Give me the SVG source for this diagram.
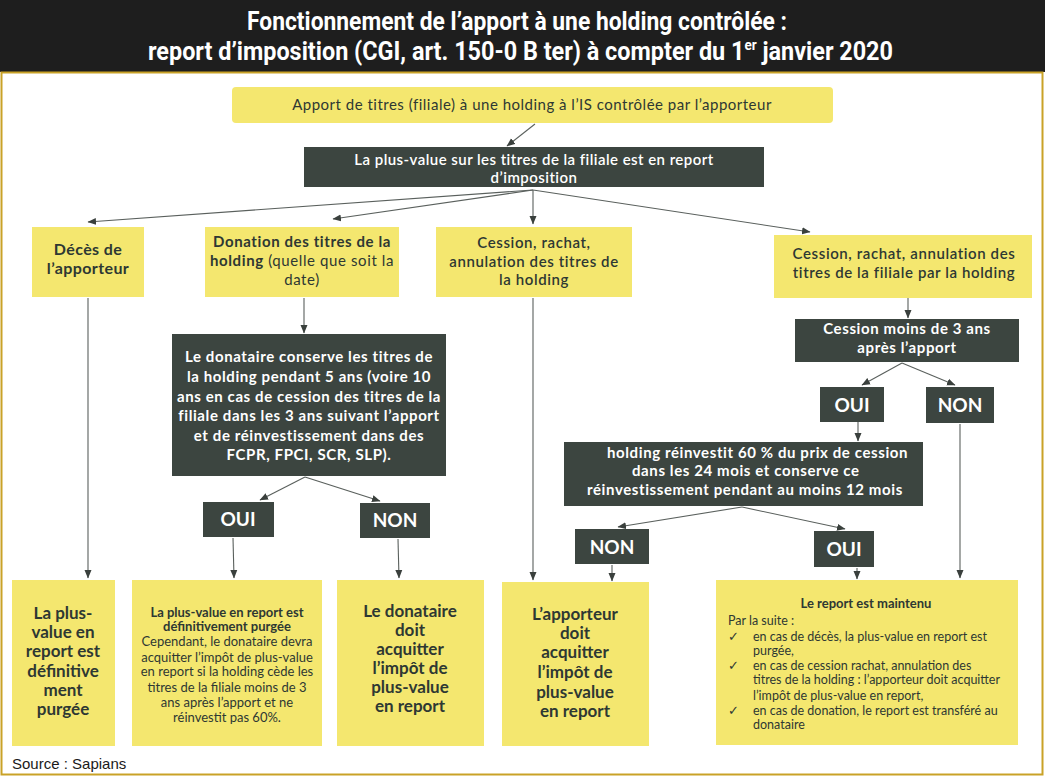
<svg xmlns="http://www.w3.org/2000/svg" width="1045" height="778" viewBox="0 0 1045 778">
<defs>
<marker id="ah" markerUnits="userSpaceOnUse" markerWidth="9" markerHeight="8" refX="8" refY="4" orient="auto">
<path d="M0,0.5 L8.5,4 L0,7.5 z" fill="#3a403d"/>
</marker>
<style>
.y{fill:#f4e76f}
.d{fill:#3c4540}
.t{font-family:Lato,"Noto Sans",sans-serif;fill:#2e3833;text-anchor:middle}
.w{fill:#ffffff}
.b{font-weight:bold}
.s{font-weight:600}
.l{text-anchor:start}
.ls{letter-spacing:0.6px}
.ttl{font-family:Roboto,"Liberation Sans",sans-serif;font-weight:bold;fill:#ffffff}
#connectors line{stroke:#5a605d;stroke-width:1.1;marker-end:url(#ah)}
</style>
</defs>
<rect x="0" y="0" width="1045" height="778" fill="#ffffff"/>
<g id="title">
<rect x="0" y="0" width="1045" height="72" fill="#1e1e1e"/>
<text class="ttl" style="font-size:26px" x="247" y="30" textLength="540" lengthAdjust="spacingAndGlyphs">Fonctionnement de l’apport à une holding contrôlée :</text>
<text class="ttl" style="font-size:26px" x="148" y="60" textLength="745" lengthAdjust="spacingAndGlyphs">report d’imposition (CGI, art. 150-0 B ter) à compter du 1<tspan style="font-size:15px" dy="-10">er</tspan><tspan dy="10"> janvier 2020</tspan></text>
</g>
<rect id="frame" x="1.5" y="72.5" width="1041" height="702" fill="none" stroke="#c9a227" stroke-width="2"/>

<g id="connectors">
<line x1="535" y1="124" x2="507" y2="146"/>
<line x1="533" y1="190" x2="88" y2="222"/>
<line x1="533" y1="190" x2="333" y2="219"/>
<line x1="533" y1="190" x2="533" y2="224"/>
<line x1="533" y1="190" x2="810" y2="232"/>
<line x1="88" y1="298" x2="88" y2="578"/>
<line x1="304" y1="298" x2="304" y2="333"/>
<line x1="533" y1="298" x2="533" y2="580"/>
<line x1="908" y1="298" x2="908" y2="318"/>
<line x1="305" y1="477" x2="260" y2="500"/>
<line x1="305" y1="477" x2="380" y2="501"/>
<line x1="233" y1="538" x2="234" y2="578"/>
<line x1="398" y1="539" x2="399" y2="578"/>
<line x1="902" y1="363" x2="862" y2="385"/>
<line x1="902" y1="363" x2="955" y2="385"/>
<line x1="858" y1="422" x2="858" y2="441"/>
<line x1="960" y1="424" x2="960" y2="578"/>
<line x1="742" y1="507" x2="618" y2="527"/>
<line x1="742" y1="507" x2="845" y2="529"/>
<line x1="612" y1="565" x2="612" y2="581"/>
<line x1="857" y1="568" x2="857" y2="579"/>
</g>

<g id="n-apport">
<rect class="y" x="232" y="87" width="601" height="36" rx="4"/>
<text class="t" x="532" y="110" font-size="15" letter-spacing="0.5">Apport de titres (filiale) à une holding à l’IS contrôlée par l’apporteur</text>
</g>
<g id="n-report">
<rect class="d" x="304" y="147" width="460" height="40"/>
<text class="t w s" x="534" y="165" font-size="15" letter-spacing="0.45">La plus-value sur les titres de la filiale est en report</text>
<text class="t w s" x="534" y="183" font-size="15" letter-spacing="0.45">d’imposition</text>
</g>
<g id="n-deces">
<rect class="y" x="32" y="227" width="112" height="70"/>
<text class="t b" x="88" y="255" font-size="16" letter-spacing="0.4">Décès de</text>
<text class="t b" x="88" y="274" font-size="16" letter-spacing="0.4">l’apporteur</text>
</g>
<g id="n-donation">
<rect class="y" x="205" y="227" width="194" height="70"/>
<text class="t ls" x="302" y="247" font-size="15"><tspan class="b">Donation des titres de la</tspan></text>
<text class="t ls" x="302" y="266" font-size="15"><tspan class="b">holding</tspan> (quelle que soit la</text>
<text class="t ls" x="302" y="285" font-size="15">date)</text>
</g>
<g id="n-cession-holding">
<rect class="y" x="436" y="227" width="196" height="70"/>
<text class="t s ls" x="534" y="248" font-size="15">Cession, rachat,</text>
<text class="t s ls" x="534" y="267" font-size="15">annulation des titres de</text>
<text class="t s ls" x="534" y="285" font-size="15">la holding</text>
</g>
<g id="n-cession-filiale">
<rect class="y" x="774" y="235" width="258" height="63"/>
<text class="t s ls" x="904" y="259" font-size="15">Cession, rachat, annulation des</text>
<text class="t s ls" x="904" y="278" font-size="15">titres de la filiale par la holding</text>
</g>
<g id="n-donataire">
<rect class="d" x="172" y="334" width="274" height="142"/>
<g letter-spacing="0.6">
<text class="t w b" x="309" y="362" font-size="15">Le donataire conserve les titres de</text>
<text class="t w b" x="309" y="382" font-size="15">la holding pendant 5 ans (voire 10</text>
<text class="t w b" x="309" y="402" font-size="15">ans en cas de cession des titres de la</text>
<text class="t w b" x="309" y="421" font-size="15">filiale dans les 3 ans suivant l’apport</text>
<text class="t w b" x="309" y="441" font-size="15">et de réinvestissement dans des</text>
<text class="t w b" x="309" y="460" font-size="15">FCPR, FPCI, SCR, SLP).</text>
</g>
</g>
<g id="n-oui1">
<rect class="d" x="203" y="502" width="71" height="35"/>
<text class="t w b" x="238" y="526" font-size="19">OUI</text>
</g>
<g id="n-non1">
<rect class="d" x="360" y="503" width="70" height="35"/>
<text class="t w b" x="395" y="527" font-size="19">NON</text>
</g>
<g id="n-moins3">
<rect class="d" x="795" y="319" width="224" height="43"/>
<text class="t w b ls" x="907" y="334" font-size="15">Cession moins de 3 ans</text>
<text class="t w b ls" x="907" y="353" font-size="15">après l’apport</text>
</g>
<g id="n-oui2">
<rect class="d" x="820" y="387" width="64" height="35"/>
<text class="t w b" x="852" y="412" font-size="19">OUI</text>
</g>
<g id="n-non2">
<rect class="d" x="926" y="387" width="68" height="36"/>
<text class="t w b" x="960" y="412" font-size="19">NON</text>
</g>
<g id="n-reinvest">
<rect class="d" x="564" y="442" width="359" height="64"/>
<text class="t w b l ls" x="607" y="458" font-size="15">holding réinvestit 60 % du prix de cession</text>
<text class="t w b l ls" x="632" y="476" font-size="15">dans les 24 mois et conserve ce</text>
<text class="t w b l ls" x="587" y="495" font-size="15">réinvestissement pendant au moins 12 mois</text>
</g>
<g id="n-non3">
<rect class="d" x="575" y="529" width="74" height="35"/>
<text class="t w b" x="612" y="554" font-size="19">NON</text>
</g>
<g id="n-oui3">
<rect class="d" x="814" y="531" width="60" height="36"/>
<text class="t w b" x="844" y="556" font-size="19">OUI</text>
</g>
<g id="n-purgee">
<rect class="y" x="12" y="580" width="103" height="166"/>
<text class="t b" x="63" y="619" font-size="17">La plus-</text>
<text class="t b" x="63" y="638" font-size="17">value en</text>
<text class="t b" x="63" y="657" font-size="17">report est</text>
<text class="t b" x="63" y="677" font-size="17">définitive</text>
<text class="t b" x="63" y="696" font-size="17">ment</text>
<text class="t b" x="63" y="715" font-size="17">purgée</text>
</g>
<g id="n-purgee2">
<rect class="y" x="132" y="580" width="190" height="166"/>
<text class="t b" x="227" y="617" font-size="13">La plus-value en report est</text>
<text class="t b" x="227" y="631" font-size="13">définitivement purgée</text>
<text class="t" x="227" y="646" font-size="13">Cependant, le donataire devra</text>
<text class="t" x="227" y="662" font-size="13">acquitter l’impôt de plus-value</text>
<text class="t" x="227" y="676" font-size="13">en report si la holding cède les</text>
<text class="t" x="227" y="692" font-size="13">titres de la filiale moins de 3</text>
<text class="t" x="227" y="707" font-size="13">ans après l’apport et ne</text>
<text class="t" x="227" y="722" font-size="13">réinvestit pas 60%.</text>
</g>
<g id="n-donataire-doit">
<rect class="y" x="337" y="580" width="147" height="166"/>
<text class="t b" x="410" y="617" font-size="17">Le donataire</text>
<text class="t b" x="410" y="636" font-size="17">doit</text>
<text class="t b" x="410" y="655" font-size="17">acquitter</text>
<text class="t b" x="410" y="674" font-size="17">l’impôt de</text>
<text class="t b" x="410" y="693" font-size="17">plus-value</text>
<text class="t b" x="410" y="712" font-size="17">en report</text>
</g>
<g id="n-apporteur-doit">
<rect class="y" x="502" y="582" width="147" height="164"/>
<text class="t b" x="575" y="620" font-size="17">L’apporteur</text>
<text class="t b" x="575" y="639" font-size="17">doit</text>
<text class="t b" x="575" y="658" font-size="17">acquitter</text>
<text class="t b" x="575" y="678" font-size="17">l’impôt de</text>
<text class="t b" x="575" y="698" font-size="17">plus-value</text>
<text class="t b" x="575" y="717" font-size="17">en report</text>
</g>
<g id="n-maintenu">
<rect class="y" x="716" y="580" width="302" height="165"/>
<text class="t b" x="866" y="608" font-size="13">Le report est maintenu</text>
<g font-size="12.5">
<text class="t l" x="728" y="625">Par la suite :</text>
<text class="t l" x="728" y="641">✓</text>
<text class="t l" x="753" y="641">en cas de décès, la plus-value en report est</text>
<text class="t l" x="753" y="655">purgée,</text>
<text class="t l" x="728" y="670">✓</text>
<text class="t l" x="753" y="670">en cas de cession rachat, annulation des</text>
<text class="t l" x="753" y="684">titres de la holding : l’apporteur doit acquitter</text>
<text class="t l" x="753" y="700">l’impôt de plus-value en report,</text>
<text class="t l" x="728" y="715">✓</text>
<text class="t l" x="753" y="715">en cas de donation, le report est transféré au</text>
<text class="t l" x="753" y="729">donataire</text>
</g>
</g>
<text id="source" x="12" y="769" font-family="'Liberation Sans',Arial,sans-serif" font-size="15" fill="#1a1a1a">Source : Sapians</text>
</svg>
